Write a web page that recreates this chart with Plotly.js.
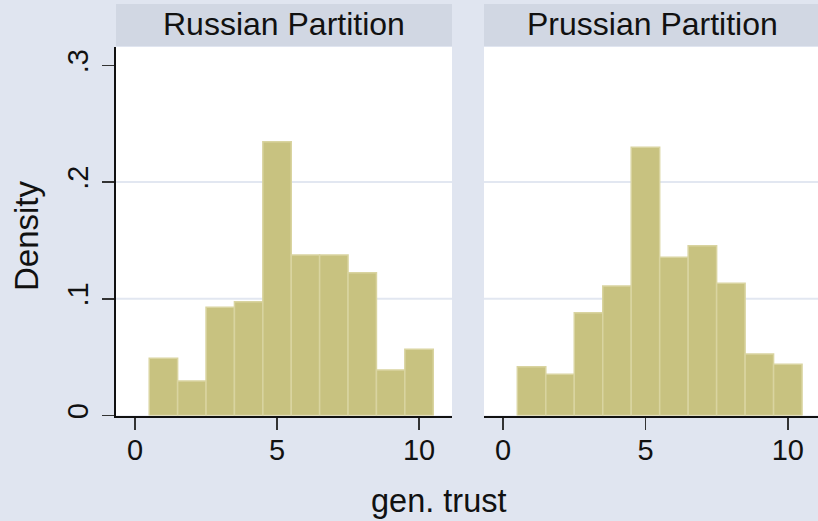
<!DOCTYPE html>
<html>
<head>
<meta charset="utf-8">
<script src="https://cdn.plot.ly/plotly-3.0.1.min.js"></script>
<style>html,body{margin:0;padding:0;background:#e0e5ef;}#chart{width:818px;height:521px;}</style>
</head>
<body>
<div id="chart"></div>
<script>
// Data
var binCenters = [1, 2, 3, 4, 5, 6, 7, 8, 9, 10];
var russianDensity = [0.049, 0.0296, 0.0927, 0.0975, 0.2346, 0.1375, 0.1375, 0.1224, 0.039, 0.0567];
var prussianDensity = [0.0418, 0.0353, 0.0881, 0.111, 0.2298, 0.1356, 0.1455, 0.1133, 0.0527, 0.0439];
var panelTitles = ["Russian Partition", "Prussian Partition"];
var xTickVals = [0, 5, 10];
var xTickText = ["0", "5", "10"];
var yTickVals = [0, 0.1, 0.2, 0.3];
var yTickText = ["0", ".1", ".2", ".3"];
var gridVals = [0.1, 0.2];

var FONT = "Liberation Sans, Arial, sans-serif";
var barFill = "rgb(200,194,128)";
var barLine = "rgb(217,212,160)";
var bg = "rgb(224,229,240)";
var stripBg = "rgb(209,215,227)";

var W = 818, H = 521;
function px(x){ return x / W; }
function py(y){ return (H - y) / H; }

var traces = [
  {type: "bar", x: binCenters, y: russianDensity, width: 1, xaxis: "x", yaxis: "y",
   marker: {color: barFill, line: {color: barLine, width: 1.5}}, hoverinfo: "x+y", showlegend: false},
  {type: "bar", x: binCenters, y: prussianDensity, width: 1, xaxis: "x2", yaxis: "y2",
   marker: {color: barFill, line: {color: barLine, width: 1.5}}, hoverinfo: "x+y", showlegend: false}
];

var xr = [-0.67, 11.16];
var yr = [0, 0.3158];
var xCommon = {
  range: xr, tickvals: xTickVals, ticktext: xTickText, ticks: "outside", ticklen: 12, tickwidth: 1.5,
  tickcolor: "#333", showline: true, linecolor: "#111", linewidth: 2, showgrid: false, zeroline: false,
  tickfont: {family: FONT, size: 29, color: "#111"}, ticklabelstandoff: -4, fixedrange: true
};
var layout = {
  width: W, height: H,
  margin: {l: 0, r: 0, t: 0, b: 0},
  paper_bgcolor: bg, plot_bgcolor: "#ffffff",
  bargap: 0,
  font: {family: FONT, color: "#111"},
  xaxis: Object.assign({}, xCommon, {domain: [px(116), px(452)], anchor: "y"}),
  xaxis2: Object.assign({}, xCommon, {domain: [px(484), 1], anchor: "y2", range: [-0.67, 11.06]}),
  yaxis: {
    domain: [py(415.5), py(47)], range: yr, anchor: "x",
    tickvals: yTickVals, ticktext: yTickText, tickangle: -90,
    ticks: "outside", ticklen: 12, tickwidth: 1.5, tickcolor: "#333",
    showline: true, linecolor: "#111", linewidth: 2, showgrid: false, zeroline: false,
    tickfont: {family: FONT, size: 29, color: "#111"}, ticklabelstandoff: 2, fixedrange: true
  },
  yaxis2: {
    domain: [py(415.5), py(47)], range: yr, anchor: "x2", matches: "y",
    showticklabels: false, ticks: "", showline: false, showgrid: false, zeroline: false, fixedrange: true
  },
  shapes: [],
  annotations: []
};

// gridlines at .1 and .2 (not at .3) as in reference
gridVals.forEach(function(v){
  ["y", "y2"].forEach(function(ya, i){
    layout.shapes.push({type: "line", layer: "below", xref: (i === 0 ? "x" : "x2") + " domain", yref: ya,
      x0: 0, x1: 1, y0: v, y1: v, line: {color: "rgb(226,231,241)", width: 2}});
  });
});

// strip headers
var stripX = [[116, 452], [484, 820]];
stripX.forEach(function(s, i){
  layout.shapes.push({type: "rect", xref: "paper", yref: "paper", x0: px(s[0]), x1: Math.min(1, px(s[1])),
    y0: py(46), y1: py(4), fillcolor: stripBg, line: {width: 0}, layer: "below"});
  layout.annotations.push({xref: "paper", yref: "paper", x: px((s[0] + s[1]) / 2), y: py(24),
    xanchor: "center", yanchor: "middle", showarrow: false, text: panelTitles[i],
    font: {family: FONT, size: 32, color: "#111"}});
});

// axis titles
layout.annotations.push({xref: "paper", yref: "paper", x: px(439), y: py(500.5), xanchor: "center", yanchor: "middle",
  showarrow: false, text: "gen. trust", font: {family: FONT, size: 32.5, color: "#111"}});
layout.annotations.push({xref: "paper", yref: "paper", x: px(26), y: py(236), xanchor: "center", yanchor: "middle",
  showarrow: false, text: "Density", textangle: -90, font: {family: FONT, size: 33, color: "#111"}});

Plotly.newPlot("chart", traces, layout, {displayModeBar: false, staticPlot: true});
</script>
</body>
</html>
